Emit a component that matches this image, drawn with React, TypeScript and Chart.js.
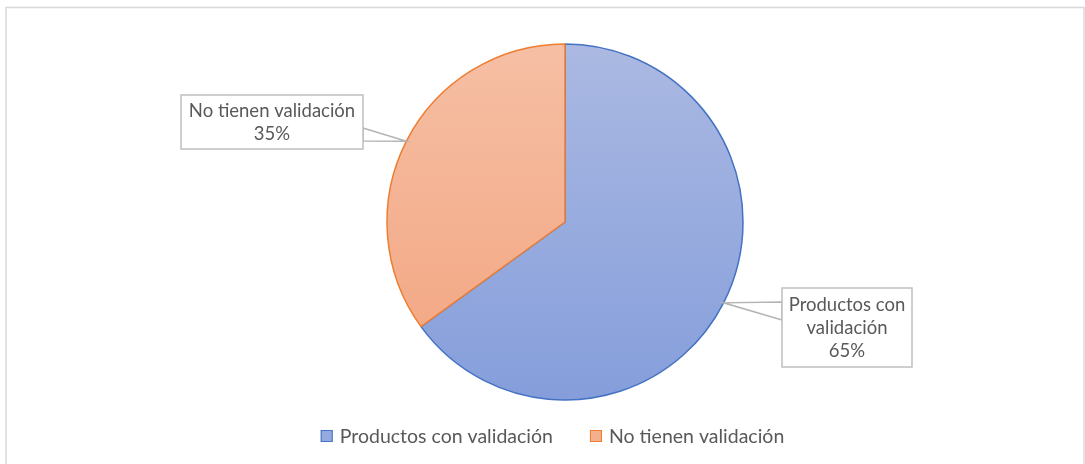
import { useEffect, useRef } from 'react';
import { Chart, registerables } from 'chart.js';

Chart.register(...registerables);

// ---- data ----
const categories = ['Productos con validación', 'No tienen validación'];
const values = [65, 35];
const calloutLines = [['Productos con', 'validación'], ['No tienen validación']];

// ---- styles ----
const borderColors = ['#4472c4', '#ed7d31'];
const gradientTops = ['#abb9e2', '#f6bfa4'];
const gradientBottoms = ['#859edb', '#f2a47f'];
const legendFills = ['#94a9dd', '#f4af8d'];

const FONT = 'Lato, "Open Sans", sans-serif';
const TEXT_COLOR = '#595959';
const W = 1085;
const H = 464;
const RADIUS = 178;
const CALLOUT_FONT_SIZE = 18.5;
const LEGEND_FONT_SIZE = 19.5;
const LINE_HEIGHT = 23;

// callout boxes: index matches categories
const calloutBoxes = [
  { x: 782, y: 288, w: 130, h: 79, side: 'left', b0: 14, b1: 32 },
  { x: 181, y: 95, w: 182, h: 54, side: 'right', b0: 33, b1: 46 },
];

const decorPlugin = {
  id: 'decor',
  beforeDraw(chart: any) {
    const ctx = chart.ctx;
    ctx.save();
    ctx.fillStyle = '#ffffff';
    ctx.fillRect(0, 0, W, H);
    ctx.strokeStyle = '#d9d9d9';
    ctx.lineWidth = 1.5;
    ctx.strokeRect(6, 7.5, 1078, 500);
    ctx.restore();
  },
  afterDatasetsDraw(chart: any) {
    const ctx = chart.ctx;
    const meta = chart.getDatasetMeta(0);
    const total = values.reduce((a, b) => a + b, 0);
    ctx.save();
    meta.data.forEach((arc: any, i: number) => {
      const p = arc.getProps(['x', 'y', 'startAngle', 'endAngle', 'outerRadius'], true);
      const mid = (p.startAngle + p.endAngle) / 2;
      const ax = p.x + Math.cos(mid) * p.outerRadius;
      const ay = p.y + Math.sin(mid) * p.outerRadius;
      const b = calloutBoxes[i];
      const bx = b.side === 'left' ? b.x : b.x + b.w;
      // leader wedge
      ctx.beginPath();
      ctx.moveTo(bx, b.y + b.b0);
      ctx.lineTo(ax, ay);
      ctx.lineTo(bx, b.y + b.b1);
      ctx.closePath();
      ctx.fillStyle = '#ffffff';
      ctx.fill();
      ctx.strokeStyle = '#b4b4b4';
      ctx.lineWidth = 1.5;
      ctx.stroke();
      // box
      ctx.fillStyle = '#ffffff';
      ctx.fillRect(b.x, b.y, b.w, b.h);
      ctx.strokeStyle = '#bfbfbf';
      ctx.lineWidth = 1.5;
      ctx.strokeRect(b.x, b.y, b.w, b.h);
      // text
      const lines = [...calloutLines[i], `${Math.round((values[i] / total) * 100)}%`];
      ctx.fillStyle = TEXT_COLOR;
      ctx.font = `${CALLOUT_FONT_SIZE}px ${FONT}`;
      ctx.textAlign = 'center';
      ctx.textBaseline = 'middle';
      const cy = b.y + b.h / 2;
      const startY = cy - ((lines.length - 1) * LINE_HEIGHT) / 2;
      lines.forEach((ln, k) => ctx.fillText(ln, b.x + b.w / 2, startY + k * LINE_HEIGHT + 1));
    });

    // legend
    ctx.font = `${LEGEND_FONT_SIZE}px ${FONT}`;
    ctx.textAlign = 'left';
    ctx.textBaseline = 'middle';
    const box = 12;
    const gap = 7;
    const spacing = 37;
    const widths = categories.map((c) => box + gap + ctx.measureText(c).width);
    const totalW = widths.reduce((a, b) => a + b, 0) + spacing * (categories.length - 1);
    let x = 552.5 - totalW / 2;
    const ly = 436;
    categories.forEach((c, i) => {
      ctx.fillStyle = legendFills[i];
      ctx.fillRect(x, ly - box / 2, box, box);
      ctx.strokeStyle = borderColors[i];
      ctx.lineWidth = 1;
      ctx.strokeRect(x + 0.5, ly - box / 2 + 0.5, box - 1, box - 1);
      ctx.fillStyle = TEXT_COLOR;
      ctx.fillText(c, x + box + gap, ly + 1);
      x += widths[i] + spacing;
    });
    ctx.restore();
  },
};

export default function App() {
  const ref = useRef<HTMLCanvasElement | null>(null);
  useEffect(() => {
    if (!ref.current) return;
    const chart = new Chart(ref.current, {
      type: 'pie',
      data: {
        labels: categories,
        datasets: [
          {
            data: values,
            backgroundColor: (ctx: any) => {
              const i = ctx.dataIndex;
              const area = ctx.chart.chartArea;
              if (!area) return gradientTops[i];
              const cy = (area.top + area.bottom) / 2;
              const g = ctx.chart.ctx.createLinearGradient(0, cy - RADIUS, 0, cy + RADIUS);
              g.addColorStop(0, gradientTops[i]);
              g.addColorStop(1, gradientBottoms[i]);
              return g;
            },
            borderColor: borderColors,
            borderWidth: 1.5,
          },
        ],
      },
      options: {
        animation: false,
        responsive: false,
        radius: RADIUS,
        layout: { padding: { left: 200, right: 155, top: 40, bottom: 60 } },
        plugins: {
          legend: { display: false },
          tooltip: { enabled: false },
          title: { display: false },
        },
      } as any,
      plugins: [decorPlugin],
    });
    return () => chart.destroy();
  }, []);
  return (
    <div style={{ position: 'absolute', left: 0, top: 0, width: W, height: H }}>
      <canvas ref={ref} width={W} height={H} style={{ display: 'block' }} />
    </div>
  );
}
